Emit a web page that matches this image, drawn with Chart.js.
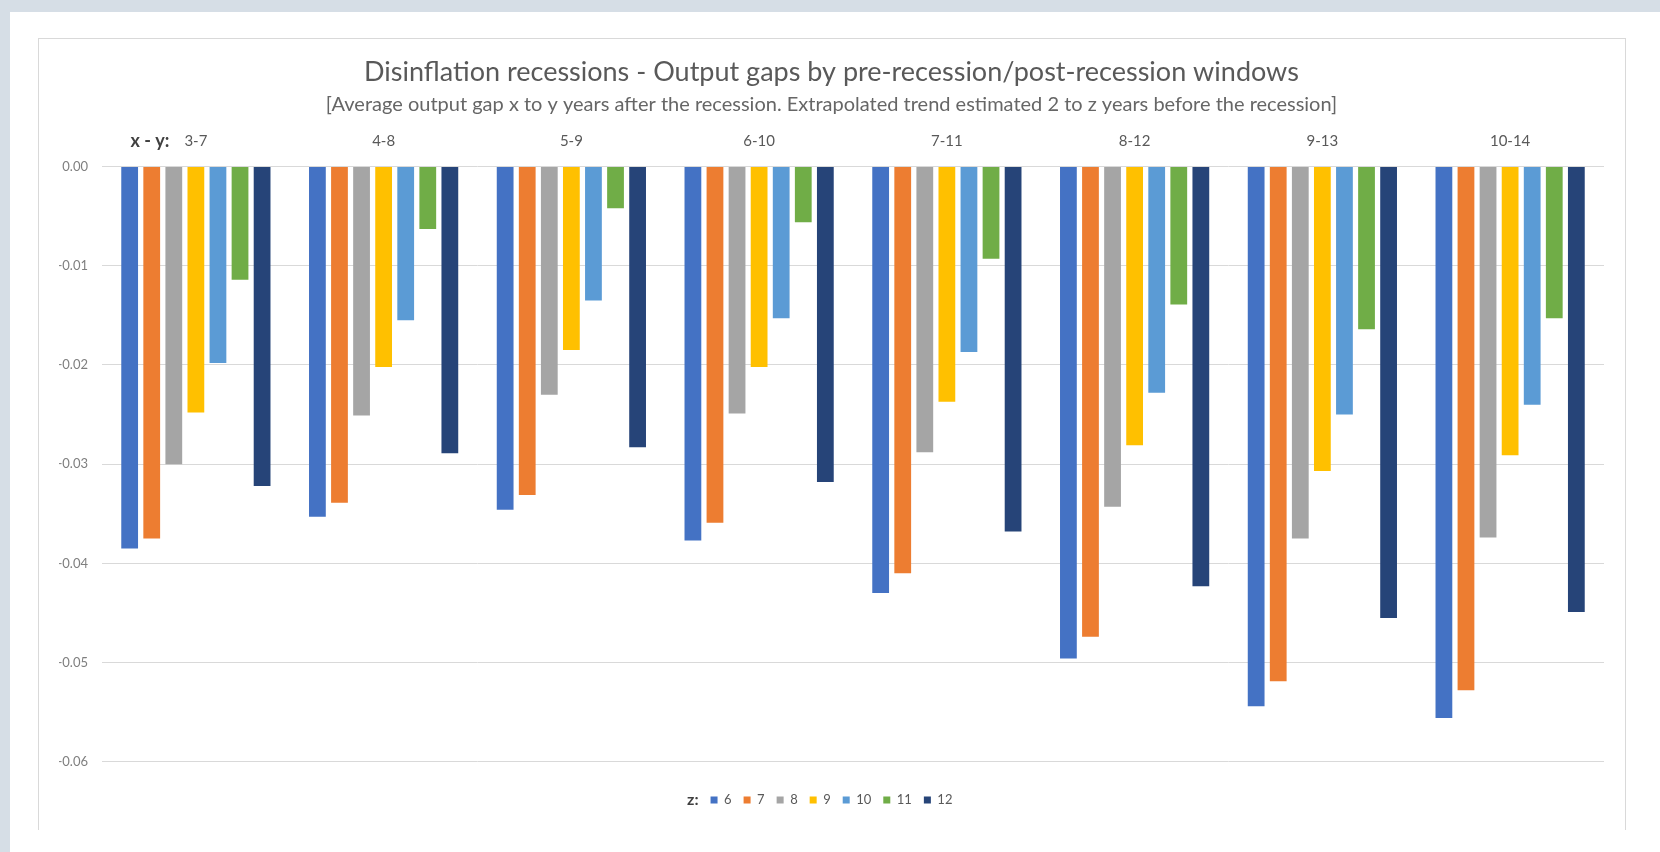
<!DOCTYPE html>
<html>
<head>
<meta charset="utf-8">
<script src="https://cdn.jsdelivr.net/npm/chart.js@4"></script>
<style>
  html, body { margin: 0; padding: 0; background: #ffffff; }
  body { width: 1660px; height: 852px; position: relative; overflow: hidden; }
  .band-top { position: absolute; left: 0; top: 0; width: 1660px; height: 12px; background: #d6dee6; }
  .band-left { position: absolute; left: 0; top: 0; width: 10px; height: 852px; background: #d6dee6; }
  .frame {
    position: absolute; left: 38px; top: 38px; width: 1588px; height: 792px;
    box-sizing: border-box; border: 1px solid #d9d9d9; border-bottom: none; background: #ffffff;
  }
  .plot { position: absolute; left: 0; top: 0; width: 1565px; height: 790px; }
</style>
</head>
<body>
<div class="band-top"></div>
<div class="band-left"></div>
<div class="frame">
  <div class="plot"><canvas id="gaps"></canvas></div>
</div>
<script>
// Post-recession windows (x - y years after the recession)
const windows = ['3-7', '4-8', '5-9', '6-10', '7-11', '8-12', '9-13', '10-14'];

// Average output gap for each pre-recession trend window z (2 to z years before)
const z6  = [-0.0385, -0.0353, -0.0346, -0.0377, -0.0430, -0.0496, -0.0544, -0.0556];
const z7  = [-0.0375, -0.0339, -0.0331, -0.0359, -0.0410, -0.0474, -0.0519, -0.0528];
const z8  = [-0.0300, -0.0251, -0.0230, -0.0249, -0.0288, -0.0343, -0.0375, -0.0374];
const z9  = [-0.0248, -0.0202, -0.0185, -0.0202, -0.0237, -0.0281, -0.0307, -0.0291];
const z10 = [-0.0198, -0.0155, -0.0135, -0.0153, -0.0187, -0.0228, -0.0250, -0.0240];
const z11 = [-0.0114, -0.0063, -0.0042, -0.0056, -0.0093, -0.0139, -0.0164, -0.0153];
const z12 = [-0.0322, -0.0289, -0.0283, -0.0318, -0.0368, -0.0423, -0.0455, -0.0449];

const seriesNames = ['6', '7', '8', '9', '10', '11', '12'];
const seriesValues = [z6, z7, z8, z9, z10, z11, z12];
const seriesColors = ['#4472c4', '#ed7d31', '#a5a5a5', '#ffc000', '#5b9bd5', '#70ad47', '#264478'];

const titleText = 'Disinflation recessions - Output gaps by pre-recession/post-recession windows';
const subtitleText = '[Average output gap x to y years after the recession. Extrapolated trend estimated 2 to z years before the recession]';
const xPrefix = 'x - y:';
const zPrefix = 'z:';

Chart.defaults.font.family = 'Lato, "Open Sans", sans-serif';

// Bold prefixes in front of the first window label and in front of the legend
const prefixLabels = {
  id: 'prefixLabels',
  afterDraw(chart) {
    const ctx = chart.ctx;
    const x = chart.scales.x;
    ctx.save();
    ctx.fillStyle = '#404040';
    ctx.textAlign = 'right';
    ctx.textBaseline = 'middle';
    ctx.font = '15px Lato, sans-serif';
    const firstW = ctx.measureText(windows[0]).width;
    const firstLeft = x.getPixelForTick(0) - firstW / 2;
    ctx.font = 'bold 18px Lato, sans-serif';
    ctx.fillText(xPrefix, firstLeft - 15, chart.chartArea.top - 16.9 - 9);
    const lg = chart.legend;
    if (lg && lg.legendHitBoxes && lg.legendHitBoxes.length) {
      const hb = lg.legendHitBoxes[0];
      ctx.font = 'bold 16px Lato, sans-serif';
      ctx.fillText(zPrefix, hb.left - 12, hb.top + hb.height / 2);
    }
    ctx.restore();
  }
};

new Chart(document.getElementById('gaps'), {
  type: 'bar',
  data: {
    labels: windows,
    datasets: seriesNames.map((n, i) => ({
      label: n,
      data: seriesValues[i],
      backgroundColor: seriesColors[i],
      borderWidth: 0,
      categoryPercentage: 0.823,
      barPercentage: 0.76
    }))
  },
  options: {
    responsive: true,
    maintainAspectRatio: false,
    animation: false,
    layout: { padding: { left: 20, right: 0, top: 0, bottom: 12.5 } },
    plugins: {
      title: {
        display: true,
        text: titleText,
        color: '#595959',
        font: { size: 27, weight: 'normal' },
        padding: { top: 17.3, bottom: 0 }
      },
      subtitle: {
        display: true,
        text: subtitleText,
        color: '#666666',
        font: { size: 20, weight: 'normal' },
        padding: { top: 3.8, bottom: 0 }
      },
      legend: {
        position: 'bottom',
        title: { display: true, text: '', font: { size: 12 }, padding: { top: 5.4, bottom: 0 } },
        labels: {
          boxWidth: 7,
          boxHeight: 7,
          padding: 12,
          color: '#595959',
          font: { size: 13 }
        }
      },
      tooltip: { enabled: false }
    },
    scales: {
      x: {
        position: 'top',
        grid: { display: false, drawTicks: false },
        border: { display: false },
        ticks: { color: '#595959', font: { size: 15 }, padding: 16.9, maxRotation: 0 },
        afterFit(scale) { scale.height = 50.1; }
      },
      y: {
        min: -0.06,
        max: 0,
        grid: { color: '#d9d9d9', lineWidth: 1, drawTicks: false },
        border: { display: false },
        ticks: {
          stepSize: 0.01,
          color: '#7f7f7f',
          font: { size: 13 },
          padding: 14,
          callback: v => Number(v).toFixed(2)
        },
        afterFit(scale) { scale.width = 43; }
      }
    }
  },
  plugins: [prefixLabels]
});
</script>
</body>
</html>
